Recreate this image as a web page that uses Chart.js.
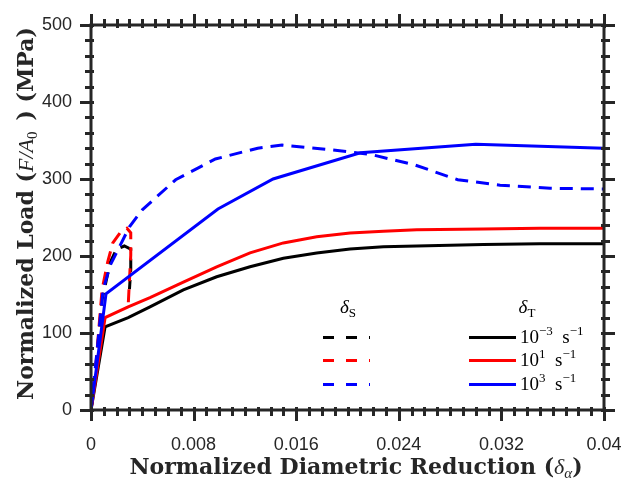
<!DOCTYPE html>
<html>
<head>
<meta charset="utf-8">
<script src="https://cdn.jsdelivr.net/npm/chart.js@4.4.0/dist/chart.umd.min.js"></script>
<style>
html, body { margin: 0; padding: 0; background: #fff; }
</style>
</head>
<body>
<canvas id="graph" width="624" height="479"></canvas>
<script>
"use strict";
// delta_S (dashed) curves
const X_S_SLOW = [0, 0.0004, 0.00086, 0.0015, 0.002, 0.0026, 0.0031, 0.0031, 0.003];
const Y_S_SLOW = [0, 60, 143, 192, 209, 213, 209, 183, 157];
const X_S_MID = [0, 0.0004, 0.00086, 0.0013, 0.0017, 0.0023, 0.0028, 0.0031, 0.0031, 0.003, 0.0029];
const Y_S_MID = [0, 62, 156, 192, 217, 231, 236, 230, 201, 169, 136];
const X_S_FAST = [0, 0.0004, 0.00094, 0.0015, 0.003, 0.004, 0.0066, 0.0097, 0.013, 0.0149,
    0.0187, 0.0218, 0.0253, 0.0286, 0.0319, 0.0358, 0.04];
const Y_S_FAST = [0, 65, 156, 188, 238, 260, 299, 326, 340, 344,
    338, 332, 318, 299, 292, 288, 287];
// delta_T (solid) curves
const X_T_SLOW = [0, 0.0011, 0.0029, 0.0046, 0.0072, 0.0098, 0.0124, 0.015, 0.0176, 0.0202,
    0.0228, 0.0254, 0.0306, 0.035, 0.04];
const Y_T_SLOW = [0, 108, 120, 134, 156, 173, 186, 197, 204, 209, 212, 213, 215, 216, 216];
const X_T_MID = [0, 0.0011, 0.0029, 0.0046, 0.0072, 0.0098, 0.0124, 0.015, 0.0176, 0.0202,
    0.0228, 0.0254, 0.0306, 0.035, 0.04];
const Y_T_MID = [0, 120, 134, 146, 166, 186, 204, 217, 225, 230, 232, 234, 235, 236, 236];
const X_T_FAST = [0, 0.00117, 0.0099, 0.0142, 0.021, 0.03, 0.04];
const Y_T_FAST = [0, 151, 261, 300, 334, 345, 340];

const X_TICKS = [0, 0.008, 0.016, 0.024, 0.032, 0.04];
const Y_TICKS = [0, 100, 200, 300, 400, 500];
const RATE_LABELS = [["10", "\u22123"], ["10", "1"], ["10", "3"]];

const AXIS_COLOR = "#262626";
const SERIF = "'Liberation Serif', 'DejaVu Serif', serif";
const SANS = "'Liberation Sans', Arial, sans-serif";

function pts(xs, ys) {
    return xs.map(function (x, i) {
        return { x: x, y: ys[i] };
    });
}

function series(xs, ys, color, dashed, order) {
    return {
        data: pts(xs, ys),
        borderColor: color,
        backgroundColor: color,
        borderWidth: 3,
        borderDash: dashed ? [13, 8] : [],
        pointRadius: 0,
        tension: 0,
        fill: false,
        order: order,
    };
}

// draw a run of text pieces with their own fonts and baseline shifts
function drawRich(ctx, parts, x, y, align) {
    let total = 0;
    parts.forEach(function (p) {
        ctx.font = p.font;
        p.w = ctx.measureText(p.t).width;
        total += p.w;
    });
    let cx = align === "center" ? x - total / 2 : align === "right" ? x - total : x;
    parts.forEach(function (p) {
        ctx.font = p.font;
        ctx.fillText(p.t, cx, y + (p.dy || 0));
        cx += p.w;
    });
}

const framePlugin = {
    id: "frame",
    afterDatasetsDraw(chart) {
        const ctx = chart.ctx;
        const a = chart.chartArea;
        const xs = chart.scales.x;
        const ys = chart.scales.y;
        ctx.save();
        ctx.strokeStyle = AXIS_COLOR;
        ctx.lineWidth = 3;
        ctx.lineCap = "butt";
        ctx.beginPath();
        for (let i = 0; i <= 40; i++) {
            const px = Math.round(xs.getPixelForValue(i / 1000)) + 0.5;
            const len = i % 8 === 0 ? 11 : 6;
            ctx.moveTo(px, a.bottom - 3);
            ctx.lineTo(px, a.bottom + len);
            ctx.moveTo(px, a.top + 3);
            ctx.lineTo(px, a.top - len);
        }
        for (let j = 0; j <= 25; j++) {
            const py = Math.round(ys.getPixelForValue(j * 20)) + 0.5;
            const len = j % 5 === 0 ? 11 : 6;
            ctx.moveTo(a.left + 3, py);
            ctx.lineTo(a.left - len, py);
            ctx.moveTo(a.right - 3, py);
            ctx.lineTo(a.right + len, py);
        }
        ctx.stroke();
        ctx.strokeRect(a.left, a.top, a.right - a.left, a.bottom - a.top);
        ctx.restore();
    },
    afterDraw(chart) {
        const ctx = chart.ctx;
        const a = chart.chartArea;
        const ds = chart.data.datasets;
        ctx.save();
        ctx.fillStyle = AXIS_COLOR;
        ctx.textBaseline = "alphabetic";
        // x title
        const bold = "bold 22px 'DejaVu Serif', serif";
        drawRich(ctx, [
            { t: "Normalized Diametric Reduction (", font: bold },
            { t: "\u03b4", font: "italic 22px " + SERIF },
            { t: "\u03b1", font: "italic 15px " + SERIF, dy: 4 },
            { t: ")", font: bold },
        ], 356, 474, "center");
        // y title
        ctx.translate(33, (a.top + a.bottom) / 2 - 4);
        ctx.rotate(-Math.PI / 2);
        drawRich(ctx, [
            { t: "Normalized Load (", font: bold },
            { t: "F/A", font: "italic 22px " + SERIF },
            { t: "0", font: "15px " + SERIF, dy: 4 },
            { t: "\u2002) (MPa)", font: bold },
        ], 0, 0, "center");
        ctx.restore();

        // legend
        ctx.save();
        ctx.fillStyle = "#000";
        drawRich(ctx, [
            { t: "\u03b4", font: "italic 19px " + SERIF },
            { t: "S", font: "13px " + SERIF, dy: 4 },
        ], 348, 313, "center");
        drawRich(ctx, [
            { t: "\u03b4", font: "italic 19px " + SERIF },
            { t: "T", font: "13px " + SERIF, dy: 4 },
        ], 527, 313, "center");
        const rows = [337, 360, 384];
        rows.forEach(function (ry, k) {
            const dashed = ds[k];
            const solid = ds[k + 3];
            ctx.lineWidth = 3;
            ctx.strokeStyle = dashed.borderColor;
            ctx.setLineDash([11, 12]);
            ctx.beginPath();
            ctx.moveTo(323, ry + 0.5);
            ctx.lineTo(370, ry + 0.5);
            ctx.stroke();
            ctx.setLineDash([]);
            ctx.strokeStyle = solid.borderColor;
            ctx.beginPath();
            ctx.moveTo(469, ry + 0.5);
            ctx.lineTo(516, ry + 0.5);
            ctx.stroke();
            const lab = RATE_LABELS[k];
            drawRich(ctx, [
                { t: lab[0], font: "19px " + SERIF },
                { t: lab[1], font: "13px " + SERIF, dy: -8 },
                { t: "\u2002s", font: "19px " + SERIF },
                { t: "\u22121", font: "13px " + SERIF, dy: -8 },
            ], 520, ry + 6, "left");
        });
        ctx.restore();
    },
};

function drawGraph() {
    const data = {
        datasets: [
            series(X_S_SLOW, Y_S_SLOW, "#000000", true, 6),
            series(X_S_MID, Y_S_MID, "#ff0000", true, 5),
            series(X_S_FAST, Y_S_FAST, "#0000ff", true, 4),
            series(X_T_SLOW, Y_T_SLOW, "#000000", false, 3),
            series(X_T_MID, Y_T_MID, "#ff0000", false, 2),
            series(X_T_FAST, Y_T_FAST, "#0000ff", false, 1),
        ],
    };
    const config = {
        type: "line",
        data,
        options: {
            responsive: false,
            animation: false,
            layout: { padding: { left: 0, top: 25, right: 20, bottom: 0 } },
            plugins: { legend: { display: false }, tooltip: { enabled: false } },
            scales: {
                x: {
                    type: "linear",
                    min: 0,
                    max: 0.04,
                    grid: { display: false, drawTicks: false },
                    border: { display: false },
                    afterBuildTicks: function (s) {
                        s.ticks = X_TICKS.map(function (v) { return { value: v }; });
                    },
                    afterFit: function (s) {
                        s.height = 69;
                        s.paddingLeft = 0;
                        s.paddingRight = 0;
                    },
                    ticks: {
                        padding: 24,
                        color: AXIS_COLOR,
                        font: { family: SANS, size: 18 },
                        maxRotation: 0,
                        callback: function (v) { return String(+v.toFixed(3)); },
                    },
                },
                y: {
                    type: "linear",
                    min: 0,
                    max: 500,
                    grid: { display: false, drawTicks: false },
                    border: { display: false },
                    afterBuildTicks: function (s) {
                        s.ticks = Y_TICKS.map(function (v) { return { value: v }; });
                    },
                    afterFit: function (s) {
                        s.width = 91;
                        s.paddingTop = 0;
                        s.paddingBottom = 0;
                    },
                    ticks: {
                        padding: 19,
                        color: AXIS_COLOR,
                        font: { family: SANS, size: 18 },
                    },
                },
            },
        },
        plugins: [framePlugin],
    };
    new Chart(document.getElementById("graph"), config);
}
drawGraph();
</script>
</body>
</html>
